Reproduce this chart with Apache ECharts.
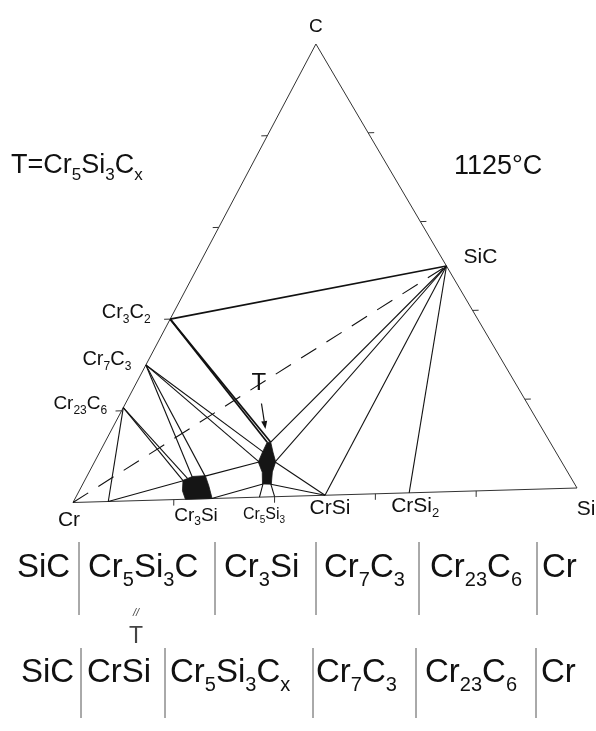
<!DOCTYPE html>
<html><head><meta charset="utf-8">
<script src="https://cdn.jsdelivr.net/npm/echarts@6.0.0/dist/echarts.min.js"></script>
<style>html,body{margin:0;padding:0;background:#fff;}#chart{width:596px;height:731px;}</style>
</head><body><div id="chart"></div>
<script>
// ===== DATA (compositions as [Si fraction, C fraction]; Cr = remainder) =====
const vertexLabels = ['Cr', 'Si', 'C'];
const vertexComps = [[0, 0], [1, 0], [0, 1]];
const phaseLabels = ['Cr_3C_2', 'Cr_7C_3', 'Cr_{23}C_6', 'SiC', 'Cr_3Si', 'Cr_5Si_3', 'CrSi', 'CrSi_2'];
const phaseComps = [[0, 0.4], [0, 0.3], [0, 0.207], [0.5, 0.5], [0.25, 0], [0.375, 0], [0.5, 0], [0.667, 0]];
const edgeTicks = [0.2, 0.4, 0.6, 0.8];
const triangleEdges = [[0, 0, 1, 0], [1, 0, 0, 1], [0, 1, 0, 0]];
// tie lines: [Si1, C1, Si2, C2]
const heavyTieLines = [
  [0, 0.4, 0.5, 0.5],
  [0, 0.4, 0.327, 0.121],
  [0, 0.4, 0.334, 0.121]
];
const tieLines = [
  [0.5, 0.5, 0.334, 0.121],
  [0.5, 0.5, 0.364, 0.077],
  [0.5, 0.5, 0.5, 0],
  [0.5, 0.5, 0.667, 0],
  [0, 0.3, 0.329, 0.100],
  [0, 0.3, 0.3315, 0.078],
  [0, 0.3, 0.213, 0.049],
  [0, 0.3, 0.238, 0.050],
  [0, 0.207, 0.199, 0.041],
  [0, 0.207, 0.205, 0.046],
  [0.07, 0, 0, 0.207],
  [0.07, 0, 0.199, 0.041],
  [0.238, 0.050, 0.3315, 0.078],
  [0.275, 0, 0.363, 0.029],
  [0.363, 0.029, 0.37, 0],
  [0.379, 0.028, 0.40, 0],
  [0.379, 0.028, 0.5, 0],
  [0.364, 0.077, 0.5, 0]
];
const dashedLines = [[0, 0, 0.5, 0.5]];
// single-phase regions (polygons)
const tPhaseRegion = [[0.327, 0.121], [0.334, 0.121], [0.349, 0.099], [0.365, 0.077], [0.369, 0.055],
  [0.380, 0.028], [0.362, 0.029], [0.349, 0.055], [0.330, 0.078], [0.328, 0.100]];
const cr3SiRegion = [[0.198, 0.042], [0.213, 0.050], [0.238, 0.051], [0.256, 0.028], [0.276, 0],
  [0.223, 0], [0.208, 0.019]];
const tLabel = 'T';
const tLabelComp = [0.330, 0.121];
const tArrow = [[0.2741, 0.2072, 0.3093, 0.1505]];
const row1Labels = ['SiC', 'Cr_5Si_3C', 'Cr_3Si', 'Cr_7C_3', 'Cr_{23}C_6', 'Cr'];
const row2Labels = ['SiC', 'CrSi', 'Cr_5Si_3C_x', 'Cr_7C_3', 'Cr_{23}C_6', 'Cr'];

// ===== LAYOUT / STYLE =====
const FONT = '"Liberation Sans", Arial, Helvetica, sans-serif';
const INK = '#111';
const SKEW = { cx: 0.482, tilt: 0.0316 };   // apex offset and base tilt of the drawn triangle
function proj(si, c) { return [si + SKEW.cx * c, SKEW.tilt * si + c]; }
const TICK_DIR = { base: [0.0063, -0.0133], left: [-0.012, 0], right: [0.012, 0] };
const labelStyle = {
  'Cr': { size: 21, off: [-4, 20] }, 'Si': { size: 21, off: [9, 23] }, 'C': { size: 19, off: [0, -16] },
  'Cr_3C_2': { size: 20, off: [-44, -5] }, 'Cr_7C_3': { size: 20, off: [-39, -4] },
  'Cr_{23}C_6': { size: 19, off: [-43, -2] }, 'SiC': { size: 21, off: [34, -7] },
  'Cr_3Si': { size: 19, off: [-3, 18] }, 'Cr_5Si_3': { size: 16, off: [2, 19] },
  'CrSi': { size: 21, off: [5, 15] }, 'CrSi_2': { size: 21, off: [6, 15] },
  'T': { size: 24, off: [-10, -57] }
};
const row1X = [17, 88, 224, 324, 430, 542];
const row2X = [21, 87, 170, 316, 425, 541];
const row1Sep = [79, 215, 316, 419, 537];
const row2Sep = [81, 165, 313, 416, 536];

function richText(str) {
  return str.split(/(_\{[^}]*\}|_[0-9a-z])/).filter(s => s).map(s =>
    s[0] === '_' ? '{s|' + s.replace(/^_\{?/, '').replace(/\}$/, '') + '}' : '{b|' + s + '}').join('');
}
function makeRich(size, color) {
  color = color || INK;
  return {
    b: { fontSize: size, fontFamily: FONT, color: color, fill: color, textBorderWidth: 0, padding: [0, 0, Math.round(size * 0.17), 0], verticalAlign: 'bottom' },
    s: { fontSize: Math.round(size * 0.62), fontFamily: FONT, color: color, fill: color, textBorderWidth: 0, verticalAlign: 'bottom' }
  };
}

const tickSegs = [];
edgeTicks.forEach(t => {
  tickSegs.push([t, 0, t + TICK_DIR.base[0], TICK_DIR.base[1]]);
  tickSegs.push([0, t, TICK_DIR.left[0], t + TICK_DIR.left[1]]);
  tickSegs.push([1 - t, t, 1 - t + TICK_DIR.right[0], t + TICK_DIR.right[1]]);
});

function segSeries(data, style, z) {
  return {
    type: 'custom', coordinateSystem: 'cartesian2d', clip: false, silent: true, z: z || 2,
    data: data, encode: { x: [0, 2], y: [1, 3] },
    renderItem: function (params, api) {
      const a = api.coord(proj(api.value(0), api.value(1)));
      const b = api.coord(proj(api.value(2), api.value(3)));
      return { type: 'line', shape: { x1: a[0], y1: a[1], x2: b[0], y2: b[1] }, style: Object.assign({ fill: null }, style) };
    }
  };
}
function polySeries(regions, style) {
  return {
    type: 'custom', coordinateSystem: 'cartesian2d', clip: false, silent: true, z: 4,
    data: regions.map((r, i) => [r[0][0], r[0][1], i]), encode: { x: 0, y: 1 },
    renderItem: function (params, api) {
      const pts = regions[params.dataIndex].map(p => api.coord(proj(p[0], p[1])));
      return { type: 'polygon', shape: { points: pts }, style: style };
    }
  };
}
const arrowSeries = {
  type: 'custom', coordinateSystem: 'cartesian2d', clip: false, silent: true, z: 4,
  data: tArrow, encode: { x: [0, 2], y: [1, 3] },
  renderItem: function (params, api) {
    const a = api.coord(proj(api.value(0), api.value(1)));
    const b = api.coord(proj(api.value(2), api.value(3)));
    const dx = b[0] - a[0], dy = b[1] - a[1], L = Math.hypot(dx, dy);
    const ux = dx / L, uy = dy / L, hl = 8, hw = 3;
    const base = [b[0] - ux * hl, b[1] - uy * hl];
    return { type: 'group', children: [
      { type: 'line', shape: { x1: a[0], y1: a[1], x2: base[0], y2: base[1] }, style: { stroke: INK, lineWidth: 1.2 } },
      { type: 'polygon', shape: { points: [b, [base[0] - uy * hw, base[1] + ux * hw], [base[0] + uy * hw, base[1] - ux * hw]] }, style: { fill: INK } }
    ] };
  }
};

function labelItem(name, comp) {
  const st = labelStyle[name];
  return {
    value: proj(comp[0], comp[1]),
    label: { show: true, position: 'inside', offset: st.off, formatter: richText(name), rich: makeRich(st.size),
      color: INK, textBorderWidth: 0, textBorderColor: 'transparent', opacity: 1 }
  };
}
const labelData = [];
vertexLabels.forEach((n, i) => labelData.push(labelItem(n, vertexComps[i])));
phaseLabels.forEach((n, i) => labelData.push(labelItem(n, phaseComps[i])));
labelData.push(labelItem(tLabel, tLabelComp));

const graphics = [];
function addText(str, x, y, size, color) {
  graphics.push({ type: 'text', x: x, y: y, silent: true,
    style: { text: richText(str), rich: makeRich(size, color), fontSize: size, fontFamily: FONT,
      align: 'left', textAlign: 'left', verticalAlign: 'middle', textVerticalAlign: 'middle', fill: color || INK } });
}
addText('T=Cr_5Si_3C_x', 11, 168, 27);
graphics.push({ type: 'text', x: 454, y: 167, silent: true,
  style: { text: '1125°C', fontSize: 27, fontFamily: FONT, fill: INK, align: 'left', textAlign: 'left', verticalAlign: 'middle', textVerticalAlign: 'middle' } });
row1Labels.forEach((s, i) => addText(s, row1X[i], 571, 33));
row2Labels.forEach((s, i) => addText(s, row2X[i], 676, 33));
row1Sep.forEach(x => graphics.push({ type: 'line', silent: true, shape: { x1: x, y1: 542, x2: x, y2: 615 }, style: { stroke: '#555', lineWidth: 1 } }));
row2Sep.forEach(x => graphics.push({ type: 'line', silent: true, shape: { x1: x, y1: 648, x2: x, y2: 718 }, style: { stroke: '#555', lineWidth: 1 } }));
graphics.push({ type: 'text', x: 136, y: 613, silent: true,
  style: { text: '//', fontSize: 11, fontStyle: 'italic', fontFamily: FONT, fill: '#444', align: 'center', textAlign: 'center', verticalAlign: 'middle', textVerticalAlign: 'middle' } });
graphics.push({ type: 'text', x: 136, y: 637, silent: true,
  style: { text: 'T', fontSize: 23, fontFamily: FONT, fill: '#444', align: 'center', textAlign: 'center', verticalAlign: 'middle', textVerticalAlign: 'middle' } });

const chart = echarts.init(document.getElementById('chart'), null, { renderer: 'canvas' });
chart.setOption({
  animation: false,
  backgroundColor: '#ffffff',
  grid: { left: 73, right: 19, top: 44, bottom: 228.5, show: false },
  xAxis: { type: 'value', min: 0, max: 1, show: false },
  yAxis: { type: 'value', min: 0, max: 1, show: false },
  series: [
    segSeries(triangleEdges, { stroke: '#333', lineWidth: 1 }, 1),
    segSeries(tickSegs, { stroke: '#333', lineWidth: 1 }, 1),
    segSeries(tieLines, { stroke: INK, lineWidth: 1.1 }, 2),
    segSeries(heavyTieLines, { stroke: INK, lineWidth: 1.7 }, 2),
    segSeries(dashedLines, { stroke: INK, lineWidth: 1.1, lineDash: [18, 12] }, 2),
    polySeries([tPhaseRegion, cr3SiRegion], { fill: '#151515', stroke: '#151515', lineWidth: 0.8 }),
    arrowSeries,
    { type: 'scatter', symbolSize: 0, silent: true, z: 6, itemStyle: { color: 'rgba(0,0,0,0)' }, data: labelData }
  ],
  graphic: graphics
});
</script></body></html>
